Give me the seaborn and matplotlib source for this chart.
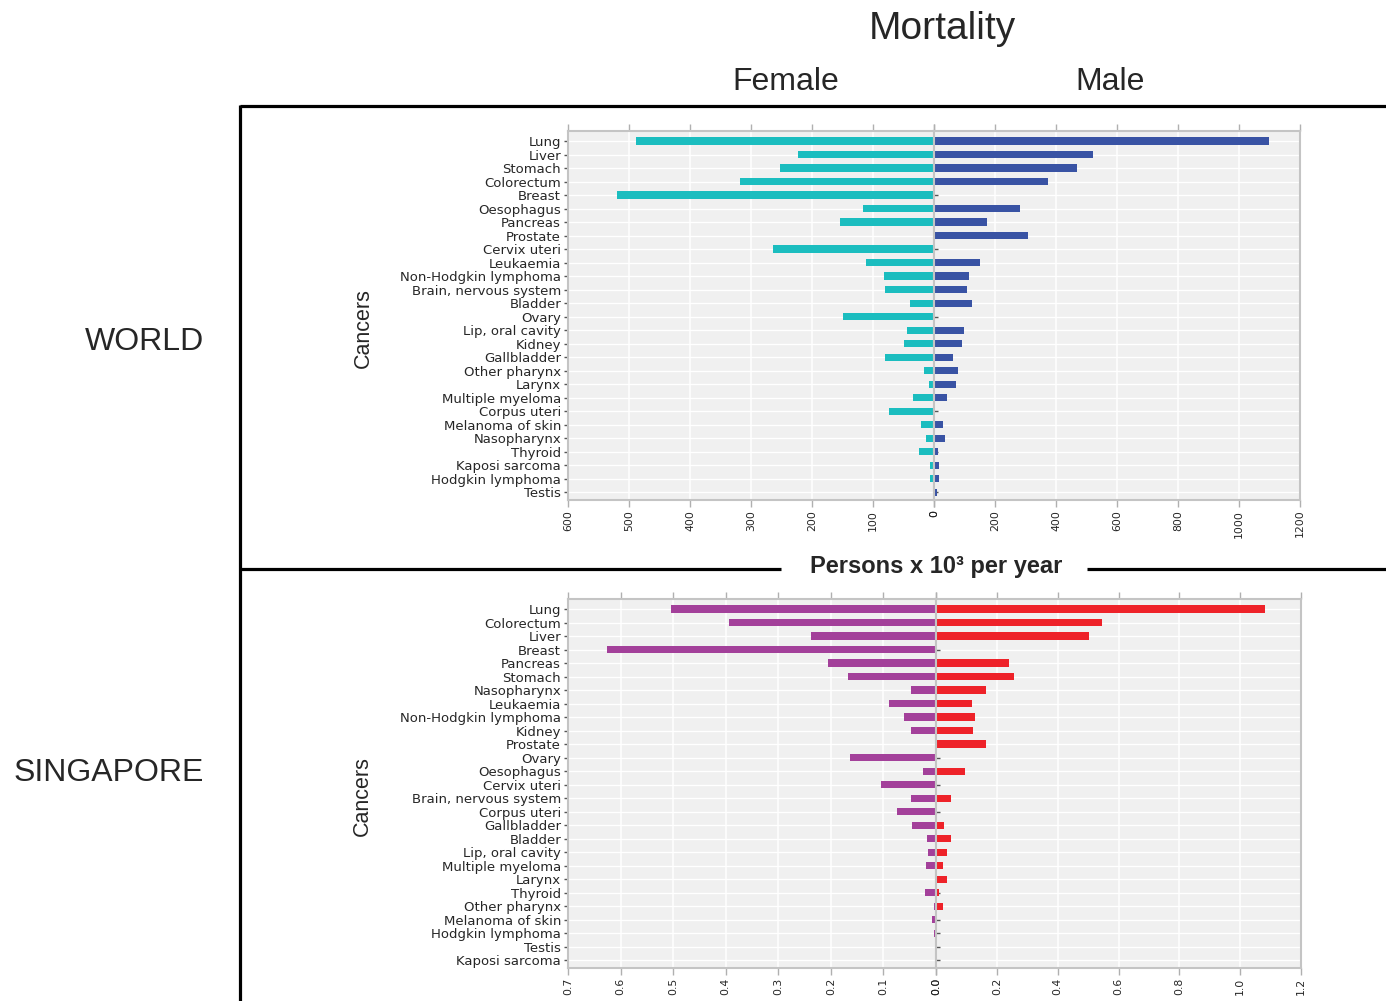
import numpy as np
import pandas as pd
import matplotlib
matplotlib.use('Agg')
import matplotlib.pyplot as plt
from matplotlib.lines import Line2D
import seaborn as sns

# mortality, persons x 10^3 per year
world_cancers = ['Lung', 'Liver', 'Stomach', 'Colorectum', 'Breast', 'Oesophagus', 'Pancreas',
                 'Prostate', 'Cervix uteri', 'Leukaemia', 'Non-Hodgkin lymphoma',
                 'Brain, nervous system', 'Bladder', 'Ovary', 'Lip, oral cavity', 'Kidney',
                 'Gallbladder', 'Other pharynx', 'Larynx', 'Multiple myeloma', 'Corpus uteri',
                 'Melanoma of skin', 'Nasopharynx', 'Thyroid', 'Kaposi sarcoma',
                 'Hodgkin lymphoma', 'Testis']
world_female = [489, 223, 252, 318, 519, 117, 154, 0, 264, 112, 82, 81, 39, 150,
                45, 50, 81, 16, 8, 35, 74, 22, 13, 25, 7, 7, 0]
world_male = [1098, 520, 468, 373, 0, 281, 174, 308, 0, 152, 116, 107, 123, 0,
              97, 92, 61, 78, 73, 43, 0, 31, 37, 12, 18, 15, 9]

sg_cancers = ['Lung', 'Colorectum', 'Liver', 'Breast', 'Pancreas', 'Stomach', 'Nasopharynx',
              'Leukaemia', 'Non-Hodgkin lymphoma', 'Kidney', 'Prostate', 'Ovary',
              'Oesophagus', 'Cervix uteri', 'Brain, nervous system', 'Corpus uteri',
              'Gallbladder', 'Bladder', 'Lip, oral cavity', 'Multiple myeloma', 'Larynx',
              'Thyroid', 'Other pharynx', 'Melanoma of skin', 'Hodgkin lymphoma', 'Testis',
              'Kaposi sarcoma']
sg_female = [0.505, 0.393, 0.237, 0.626, 0.206, 0.167, 0.048, 0.090, 0.060, 0.048, 0,
             0.164, 0.025, 0.104, 0.047, 0.074, 0.045, 0.018, 0.015, 0.019, 0.002,
             0.021, 0.003, 0.008, 0.004, 0, 0]
sg_male = [1.080, 0.545, 0.504, 0, 0.239, 0.258, 0.165, 0.118, 0.127, 0.120, 0.166, 0,
           0.096, 0, 0.050, 0, 0.025, 0.050, 0.037, 0.022, 0.036, 0.011, 0.022, 0, 0, 0, 0]

world_f_ticks = [0, 100, 200, 300, 400, 500, 600]
world_m_ticks = [0, 200, 400, 600, 800, 1000, 1200]
sg_f_ticks = [0.0, 0.1, 0.2, 0.3, 0.4, 0.5, 0.6, 0.7]
sg_m_ticks = [0.0, 0.2, 0.4, 0.6, 0.8, 1.0, 1.2]

sns.set_theme(style='darkgrid', rc={'axes.facecolor': '#f0f0f0', 'grid.color': 'white',
                                    'grid.linewidth': 1.1, 'axes.edgecolor': '#c4c4c4',
                                    'axes.linewidth': 1.5})
plt.rcParams['font.family'] = ['DejaVu Sans']

W, H = 1386, 1001
fig = plt.figure(figsize=(W / 100, H / 100), dpi=100)


def box(x0, y0, x1, y1):
    return [x0 / W, 1 - y1 / H, (x1 - x0) / W, (y1 - y0) / H]


def half(rect, cancers, values, colour, ticks, fmt, left):
    ax = fig.add_axes(rect)
    df = pd.DataFrame({'cancer': cancers, 'rate': values})
    sns.barplot(data=df, x='rate', y='cancer', order=cancers, color=colour, orient='h',
                width=0.54, linewidth=0, saturation=1, ax=ax)
    ax.set_xlim((ticks[-1], 0) if left else (0, ticks[-1]))
    ax.set_ylim(len(cancers) - 0.42, -0.75)
    ax.set_xticks(ticks)
    ax.set_xticklabels([fmt.format(t) for t in ticks], rotation=90, fontsize=7.8)
    ax.set_xlabel('')
    ax.set_ylabel('')
    ax.xaxis.grid(True)
    ax.yaxis.grid(True, linewidth=1.0)
    ax.tick_params(axis='x', bottom=True, top=True, labeltop=False, direction='out',
                   length=5, width=1, color='#b0b0b0', pad=2)
    if left:
        ax.tick_params(axis='y', left=True, direction='out', length=3, width=1,
                       color='#555555', labelsize=9.5, pad=2)
        ax.set_ylabel('Cancers', fontsize=15.5, family=['Liberation Sans', 'DejaVu Sans'])
        ax.yaxis.set_label_coords(-0.53, 0.465)
    else:
        ax.tick_params(axis='y', left=True, direction='in', length=3, width=1,
                       color='#555555', labelleft=False)
    return ax


half(box(568, 131, 934, 500), world_cancers, world_female, '#1bbdbf', world_f_ticks, '{:d}', True)
half(box(934, 131, 1300, 500), world_cancers, world_male, '#3953a4', world_m_ticks, '{:d}', False)
half(box(568, 599, 936, 968), sg_cancers, sg_female, '#a3409a', sg_f_ticks, '{:.1f}', True)
half(box(936, 599, 1301, 968), sg_cancers, sg_male, '#ee2229', sg_m_ticks, '{:.1f}', False)

sans = ['Liberation Sans', 'DejaVu Sans']
fig.text(942 / W, 1 - 29 / H, 'Mortality', fontsize=28, family=sans, ha='center', va='center')
fig.text(786 / W, 1 - 82 / H, 'Female', fontsize=23, family=sans, ha='center', va='center')
fig.text(1110 / W, 1 - 82 / H, 'Male', fontsize=23, family=sans, ha='center', va='center')
fig.text(204 / W, 1 - 342 / H, 'WORLD', fontsize=23, family=sans, ha='right', va='center')
fig.text(204 / W, 1 - 773 / H, 'SINGAPORE', fontsize=23, family=sans, ha='right', va='center')
fig.text(936 / W, 1 - 566 / H, 'Persons x 10³ per year', fontsize=17, family=sans,
         fontweight='bold', ha='center', va='center')

# frame lines
for xs, ys in [([240, 240], [105, 1001]), ([240, 1386], [106, 106]),
               ([240, 781], [569, 569]), ([1087, 1386], [569, 569])]:
    fig.add_artist(Line2D([x / W for x in xs], [1 - y / H for y in ys],
                          color='black', linewidth=2.3, solid_capstyle='butt'))

plt.savefig('out.png', dpi=100)
